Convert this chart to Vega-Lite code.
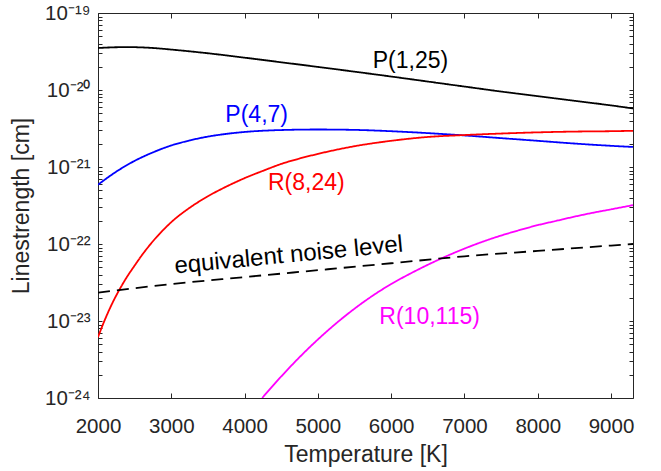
{
  "$schema": "https://vega.github.io/schema/vega-lite/v6.json",
  "width": 535,
  "height": 385,
  "autosize": {"type": "none"},
  "padding": {"left": 98, "top": 13, "right": 28, "bottom": 73},
  "config": {
    "view": {"stroke": "#262626", "strokeWidth": 1},
    "font": "Liberation Sans",
    "axis": {
      "domain": false,
      "grid": false,
      "tickColor": "#262626",
      "tickWidth": 1,
      "labelColor": "#262626",
      "titleColor": "#262626",
      "labelFont": "Liberation Sans",
      "titleFont": "Liberation Sans",
      "labelFontSize": 20.5,
      "titleFontSize": 23,
      "titleFontWeight": "normal",
      "labelFlush": false
    }
  },
  "datasets": {
    "curves": [
      {"series": "P(1,25)", "T": 2000, "S": 3.508e-20},
      {"series": "P(1,25)", "T": 2200, "S": 3.581e-20},
      {"series": "P(1,25)", "T": 2400, "S": 3.606e-20},
      {"series": "P(1,25)", "T": 2600, "S": 3.573e-20},
      {"series": "P(1,25)", "T": 2800, "S": 3.483e-20},
      {"series": "P(1,25)", "T": 3000, "S": 3.35e-20},
      {"series": "P(1,25)", "T": 3500, "S": 3.0e-20},
      {"series": "P(1,25)", "T": 4000, "S": 2.63e-20},
      {"series": "P(1,25)", "T": 4500, "S": 2.291e-20},
      {"series": "P(1,25)", "T": 5000, "S": 1.995e-20},
      {"series": "P(1,25)", "T": 5500, "S": 1.73e-20},
      {"series": "P(1,25)", "T": 6000, "S": 1.496e-20},
      {"series": "P(1,25)", "T": 6500, "S": 1.288e-20},
      {"series": "P(1,25)", "T": 7000, "S": 1.109e-20},
      {"series": "P(1,25)", "T": 7500, "S": 9.55e-21},
      {"series": "P(1,25)", "T": 8000, "S": 8.318e-21},
      {"series": "P(1,25)", "T": 8500, "S": 7.244e-21},
      {"series": "P(1,25)", "T": 9000, "S": 6.31e-21},
      {"series": "P(1,25)", "T": 9300, "S": 5.754e-21},
      {"series": "P(4,7)", "T": 2000, "S": 5.888e-22},
      {"series": "P(4,7)", "T": 2250, "S": 8.71e-22},
      {"series": "P(4,7)", "T": 2500, "S": 1.202e-21},
      {"series": "P(4,7)", "T": 2750, "S": 1.549e-21},
      {"series": "P(4,7)", "T": 3000, "S": 1.905e-21},
      {"series": "P(4,7)", "T": 3250, "S": 2.213e-21},
      {"series": "P(4,7)", "T": 3500, "S": 2.483e-21},
      {"series": "P(4,7)", "T": 3750, "S": 2.692e-21},
      {"series": "P(4,7)", "T": 4000, "S": 2.851e-21},
      {"series": "P(4,7)", "T": 4500, "S": 3.02e-21},
      {"series": "P(4,7)", "T": 5000, "S": 3.069e-21},
      {"series": "P(4,7)", "T": 5500, "S": 3.034e-21},
      {"series": "P(4,7)", "T": 6000, "S": 2.917e-21},
      {"series": "P(4,7)", "T": 6500, "S": 2.754e-21},
      {"series": "P(4,7)", "T": 7000, "S": 2.57e-21},
      {"series": "P(4,7)", "T": 7500, "S": 2.371e-21},
      {"series": "P(4,7)", "T": 8000, "S": 2.188e-21},
      {"series": "P(4,7)", "T": 8500, "S": 2.018e-21},
      {"series": "P(4,7)", "T": 9000, "S": 1.884e-21},
      {"series": "P(4,7)", "T": 9300, "S": 1.82e-21},
      {"series": "R(8,24)", "T": 2000, "S": 6.17e-24},
      {"series": "R(8,24)", "T": 2100, "S": 1.072e-23},
      {"series": "R(8,24)", "T": 2200, "S": 1.738e-23},
      {"series": "R(8,24)", "T": 2300, "S": 2.63e-23},
      {"series": "R(8,24)", "T": 2400, "S": 3.8e-23},
      {"series": "R(8,24)", "T": 2500, "S": 5.248e-23},
      {"series": "R(8,24)", "T": 2600, "S": 7.178e-23},
      {"series": "R(8,24)", "T": 2700, "S": 9.528e-23},
      {"series": "R(8,24)", "T": 2800, "S": 1.233e-22},
      {"series": "R(8,24)", "T": 2900, "S": 1.556e-22},
      {"series": "R(8,24)", "T": 3000, "S": 1.923e-22},
      {"series": "R(8,24)", "T": 3250, "S": 2.951e-22},
      {"series": "R(8,24)", "T": 3500, "S": 4.169e-22},
      {"series": "R(8,24)", "T": 3750, "S": 5.559e-22},
      {"series": "R(8,24)", "T": 4000, "S": 7.161e-22},
      {"series": "R(8,24)", "T": 4250, "S": 8.913e-22},
      {"series": "R(8,24)", "T": 4500, "S": 1.096e-21},
      {"series": "R(8,24)", "T": 4750, "S": 1.288e-21},
      {"series": "R(8,24)", "T": 5000, "S": 1.479e-21},
      {"series": "R(8,24)", "T": 5500, "S": 1.862e-21},
      {"series": "R(8,24)", "T": 6000, "S": 2.188e-21},
      {"series": "R(8,24)", "T": 6500, "S": 2.455e-21},
      {"series": "R(8,24)", "T": 7000, "S": 2.6e-21},
      {"series": "R(8,24)", "T": 7500, "S": 2.72e-21},
      {"series": "R(8,24)", "T": 8000, "S": 2.818e-21},
      {"series": "R(8,24)", "T": 8500, "S": 2.884e-21},
      {"series": "R(8,24)", "T": 9000, "S": 2.917e-21},
      {"series": "R(8,24)", "T": 9300, "S": 2.951e-21},
      {"series": "R(10,115)", "T": 4240, "S": 1.0e-24},
      {"series": "R(10,115)", "T": 4500, "S": 1.905e-24},
      {"series": "R(10,115)", "T": 4750, "S": 3.388e-24},
      {"series": "R(10,115)", "T": 5000, "S": 5.754e-24},
      {"series": "R(10,115)", "T": 5250, "S": 9.333e-24},
      {"series": "R(10,115)", "T": 5500, "S": 1.445e-23},
      {"series": "R(10,115)", "T": 5750, "S": 2.138e-23},
      {"series": "R(10,115)", "T": 6000, "S": 3.02e-23},
      {"series": "R(10,115)", "T": 6250, "S": 4.074e-23},
      {"series": "R(10,115)", "T": 6500, "S": 5.37e-23},
      {"series": "R(10,115)", "T": 6750, "S": 6.918e-23},
      {"series": "R(10,115)", "T": 7000, "S": 8.71e-23},
      {"series": "R(10,115)", "T": 7250, "S": 1.072e-22},
      {"series": "R(10,115)", "T": 7500, "S": 1.288e-22},
      {"series": "R(10,115)", "T": 7750, "S": 1.514e-22},
      {"series": "R(10,115)", "T": 8000, "S": 1.758e-22},
      {"series": "R(10,115)", "T": 8250, "S": 1.995e-22},
      {"series": "R(10,115)", "T": 8500, "S": 2.265e-22},
      {"series": "R(10,115)", "T": 8750, "S": 2.541e-22},
      {"series": "R(10,115)", "T": 9000, "S": 2.818e-22},
      {"series": "R(10,115)", "T": 9300, "S": 3.199e-22},
      {"series": "noise", "T": 2000, "S": 2.34e-23},
      {"series": "noise", "T": 3000, "S": 3.02e-23},
      {"series": "noise", "T": 4000, "S": 3.72e-23},
      {"series": "noise", "T": 5000, "S": 4.57e-23},
      {"series": "noise", "T": 6000, "S": 5.62e-23},
      {"series": "noise", "T": 7000, "S": 6.92e-23},
      {"series": "noise", "T": 8000, "S": 8.13e-23},
      {"series": "noise", "T": 9000, "S": 9.55e-23},
      {"series": "noise", "T": 9300, "S": 1.0e-22}
    ],
    "labels": [
      {"series": "P(1,25)", "T": 6263, "S": 2.4e-20, "label": "P(1,25)"},
      {"series": "P(4,7)", "T": 4165, "S": 4.7e-21, "label": "P(4,7)"},
      {"series": "R(8,24)", "T": 4843, "S": 6.2e-22, "label": "R(8,24)"},
      {"series": "R(10,115)", "T": 6525, "S": 1.14e-23, "label": "R(10,115)"}
    ],
    "noiselabel": [
      {"series": "noise", "T": 4602, "S": 7.1e-23, "label": "equivalent noise level"}
    ]
  },
  "layer": [
    {
      "data": {"name": "curves"},
      "mark": {"type": "line", "strokeWidth": 1.8, "clip": true, "interpolate": "monotone"},
      "encoding": {
        "x": {
          "field": "T", "type": "quantitative",
          "scale": {"domain": [2000, 9300], "nice": false, "zero": false},
          "axis": {
            "orient": "bottom",
            "values": [2000, 3000, 4000, 5000, 6000, 7000, 8000, 9000],
            "format": "d",
            "offset": -5,
            "tickSize": 5,
            "labelPadding": 18,
            "title": "Temperature [K]",
            "titlePadding": 7
          }
        },
        "y": {
          "field": "S", "type": "quantitative",
          "scale": {"type": "log", "domain": [1e-24, 1e-19], "nice": false},
          "axis": {
            "orient": "left",
            "values": [1e-24, 2e-24, 3e-24, 4e-24, 5e-24, 6e-24, 7e-24, 8e-24, 9e-24,
                       1e-23, 2e-23, 3e-23, 4e-23, 5e-23, 6e-23, 7e-23, 8e-23, 9e-23,
                       1e-22, 2e-22, 3e-22, 4e-22, 5e-22, 6e-22, 7e-22, 8e-22, 9e-22,
                       1e-21, 2e-21, 3e-21, 4e-21, 5e-21, 6e-21, 7e-21, 8e-21, 9e-21,
                       1e-20, 2e-20, 3e-20, 4e-20, 5e-20, 6e-20, 7e-20, 8e-20, 9e-20, 1e-19],
            "labelExpr": "datum.value == 1e-19 ? '10⁻¹⁹' : datum.value == 1e-20 ? '10⁻²⁰' : datum.value == 1e-21 ? '10⁻²¹' : datum.value == 1e-22 ? '10⁻²²' : datum.value == 1e-23 ? '10⁻²³' : datum.value == 1e-24 ? '10⁻²⁴' : ''",
            "offset": -4,
            "tickSize": 4,
            "labelPadding": 8,
            "labelBaseline": "middle",
            "title": "Linestrength [cm]",
            "titlePadding": 11
          }
        },
        "color": {
          "field": "series", "type": "nominal",
          "scale": {"domain": ["P(1,25)", "P(4,7)", "R(8,24)", "R(10,115)", "noise"],
                    "range": ["#000000", "#0000ff", "#ff0000", "#ff00ff", "#000000"]},
          "legend": null
        },
        "strokeDash": {
          "field": "series", "type": "nominal",
          "scale": {"domain": ["P(1,25)", "P(4,7)", "R(8,24)", "R(10,115)", "noise"],
                    "range": [[1, 0], [1, 0], [1, 0], [1, 0], [12, 7]]},
          "legend": null
        }
      }
    },
    {
      "data": {"name": "labels"},
      "mark": {"type": "text", "fontSize": 23, "font": "Liberation Sans", "align": "center", "baseline": "middle"},
      "encoding": {
        "x": {
          "field": "T", "type": "quantitative",
          "scale": {"domain": [2000, 9300], "nice": false, "zero": false},
          "axis": {
            "orient": "top",
            "values": [2000, 3000, 4000, 5000, 6000, 7000, 8000, 9000],
            "labels": false, "offset": -5, "tickSize": 5, "title": null
          }
        },
        "y": {
          "field": "S", "type": "quantitative",
          "scale": {"type": "log", "domain": [1e-24, 1e-19], "nice": false},
          "axis": {
            "orient": "right",
            "values": [1e-24, 2e-24, 3e-24, 4e-24, 5e-24, 6e-24, 7e-24, 8e-24, 9e-24,
                       1e-23, 2e-23, 3e-23, 4e-23, 5e-23, 6e-23, 7e-23, 8e-23, 9e-23,
                       1e-22, 2e-22, 3e-22, 4e-22, 5e-22, 6e-22, 7e-22, 8e-22, 9e-22,
                       1e-21, 2e-21, 3e-21, 4e-21, 5e-21, 6e-21, 7e-21, 8e-21, 9e-21,
                       1e-20, 2e-20, 3e-20, 4e-20, 5e-20, 6e-20, 7e-20, 8e-20, 9e-20, 1e-19],
            "labels": false, "offset": -4, "tickSize": 4, "title": null
          }
        },
        "text": {"field": "label"},
        "color": {"field": "series", "type": "nominal", "legend": null}
      }
    },
    {
      "data": {"name": "noiselabel"},
      "mark": {"type": "text", "fontSize": 24, "font": "Liberation Sans", "align": "center", "baseline": "middle", "angle": 354.5},
      "encoding": {
        "x": {"field": "T", "type": "quantitative", "scale": {"domain": [2000, 9300], "nice": false, "zero": false}, "axis": null},
        "y": {"field": "S", "type": "quantitative", "scale": {"type": "log", "domain": [1e-24, 1e-19], "nice": false}, "axis": null},
        "text": {"field": "label"},
        "color": {"field": "series", "type": "nominal", "legend": null}
      }
    }
  ],
  "resolve": {"axis": {"x": "independent", "y": "independent"}}
}
